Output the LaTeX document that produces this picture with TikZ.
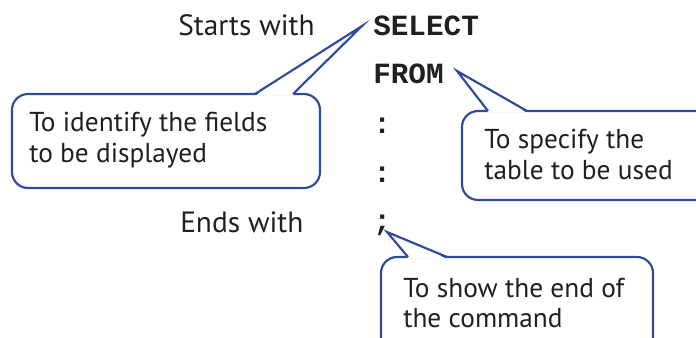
\documentclass[tikz,border=0pt]{standalone}
\usepackage{fontspec}
\setmainfont{PT Sans}
\setmonofont{Liberation Mono}
\usetikzlibrary{fit}
\definecolor{cblue}{HTML}{2E4A9C}
\definecolor{ink}{HTML}{231F20}
\begin{document}
\begin{tikzpicture}[x=0.75pt,y=-0.75pt,
  lbl/.style={font=\fontsize{22}{26}\selectfont, text=ink, inner sep=0, anchor=base west},
  code/.style={font=\ttfamily\bfseries\fontsize{22}{26}\selectfont, text=ink, inner sep=0, anchor=base west},
  note/.style={font=\fontsize{20.5}{23.25}\selectfont, text=ink, inner sep=0, anchor=base west, align=left},
  callbox/.style={draw=cblue, line width=1.6pt, rounded corners=12pt, fill=white, inner sep=0pt},
  ptrfill/.style={fill=white},
  ptr/.style={draw=cblue, line width=1.6pt, line join=miter}]
\useasboundingbox (0,0) rectangle (696,338);
\clip (0,0) rectangle (696,338);
% left-hand labels
\node[lbl] (starts) at (178,36) {Starts with};
\node[lbl] (ends) at (180,233) {Ends with};
% SQL skeleton
\node[code] (select) at (373,36) {SELECT};
\node[code] (from) at (373,84) {FROM};
\node[code] (c1) at (373,134) {:};
\node[code] (c2) at (373,183) {:};
\node[code] (semi) at (373,231) {;};
% pointer tips
\coordinate (t1) at (362,26);
\coordinate (t2) at (457,71);
\coordinate (t3) at (387,232);
% callout boxes
\node[callbox, fit={(12,94) (320,188)}] (b1) {};
\node[callbox, fit={(462,111) (730,200)}] (b2) {};
\node[callbox, fit={(381,257) (653,370)}] (b3) {};
% pointers
\fill[ptrfill] (255.5,95.6) -- (t1) -- (292.5,95.6) -- cycle;
\draw[ptr] (255,94) -- (t1) -- (293,94);
\fill[ptrfill] (488.5,112.6) -- (t2) -- (526.5,112.6) -- cycle;
\draw[ptr] (488,111) -- (t2) -- (527,111);
\fill[ptrfill] (408.5,258.6) -- (t3) -- (446.5,258.6) -- cycle;
\draw[ptr] (408,257) -- (t3) -- (447,257);
% notes
\node[note] (n1) at (29,163) {To identify the fields\\to be displayed};
\node[note] (n2) at (484,180) {To specify the\\table to be used};
\node[note] (n3) at (403,328) {To show the end of\\the command};
\end{tikzpicture}
\end{document}
